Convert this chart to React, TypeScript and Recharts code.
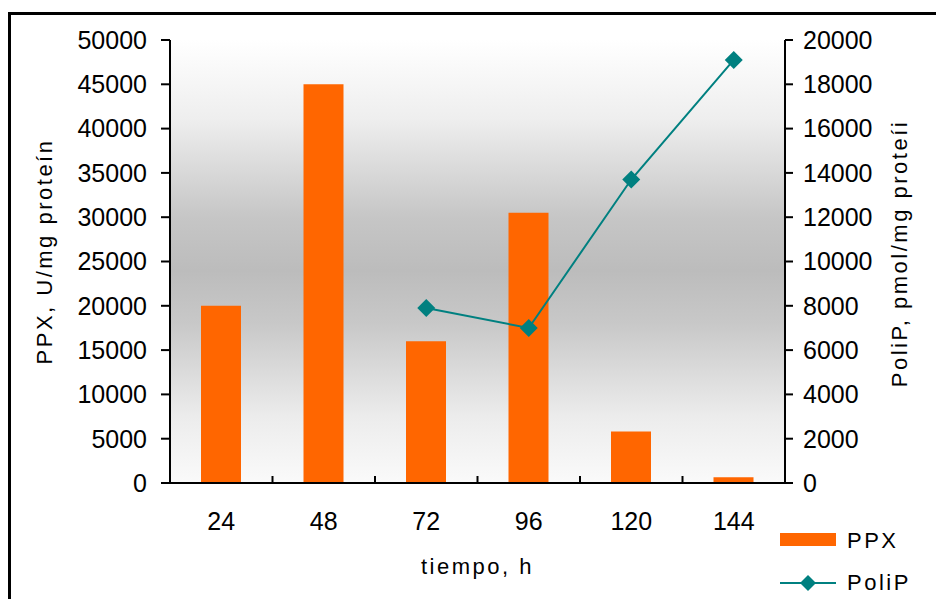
import { ComposedChart, Bar, Line, XAxis, YAxis, CartesianGrid, Label } from 'recharts'

// sampling times (h) and measured values per time point
const HOURS = ['24', '48', '72', '96', '120', '144']
const PPX = [20000, 45000, 16000, 30500, 5800, 650]
const POLIP: (number | null)[] = [null, null, 7900, 7000, 13700, 19100]

const PPX_TICKS = [0, 5000, 10000, 15000, 20000, 25000, 30000, 35000, 40000, 45000, 50000]
const POLIP_TICKS = [0, 2000, 4000, 6000, 8000, 10000, 12000, 14000, 16000, 18000, 20000]

const data = HOURS.map((hour, i) => ({ hour, ppx: PPX[i], polip: POLIP[i] }))

const FONT = '"Liberation Sans", Arial, sans-serif'
const ORANGE = '#FF6600'
const TEAL = '#008080'
const TICK_STYLE = { fill: '#000', fontSize: 25, fontFamily: FONT }
const TITLE_STYLE = { fill: '#000', fontSize: 22, fontFamily: FONT, letterSpacing: 2.5 }

function Diamond(props: any) {
  const { cx, cy } = props
  if (cx == null || cy == null) return null
  const r = 9
  return (
    <polygon
      points={`${cx},${cy - r} ${cx + r},${cy} ${cx},${cy + r} ${cx - r},${cy}`}
      fill={TEAL}
    />
  )
}

// hour label under each bar, with a short tick mark at the right edge of its band
function HourTick(props: any) {
  const { x, y, payload, index } = props
  const axisY = y - 29
  const edge = x + (payload.offset ?? 0)
  return (
    <g>
      <text x={x} y={y} dy="0.71em" textAnchor="middle" style={TICK_STYLE}>
        {payload.value}
      </text>
      {index < HOURS.length - 1 && (
        <line x1={edge} x2={edge} y1={axisY} y2={axisY - 7} stroke="#000" strokeWidth={2} />
      )}
    </g>
  )
}

function VerticalTitle(text: string, dx: number, dy: number) {
  return (p: any) => {
    const vb = p.viewBox
    const cx = vb.x + dx
    const cy = vb.y + vb.height / 2 + dy
    return (
      <text
        x={cx}
        y={cy}
        transform={`rotate(-90 ${cx} ${cy})`}
        textAnchor="middle"
        style={TITLE_STYLE}
      >
        {text}
      </text>
    )
  }
}

function HourTitle(p: any) {
  const vb = p.viewBox
  return (
    <text x={vb.x + vb.width / 2} y={vb.y + 91} textAnchor="middle" style={TITLE_STYLE}>
      tiempo, h
    </text>
  )
}

export default function App() {
  return (
    <div
      style={{
        position: 'absolute',
        left: 0,
        top: 0,
        width: 936,
        height: 599,
        background: '#fff',
        overflow: 'hidden',
        fontFamily: FONT,
      }}
    >
      <div
        style={{
          position: 'absolute',
          left: 8,
          top: 12,
          width: 1000,
          height: 700,
          borderLeft: '3px solid #000',
          borderTop: '3px solid #000',
        }}
      />
      <ComposedChart
        width={936}
        height={599}
        data={data}
        margin={{ top: 40, right: 0, bottom: 0, left: 0 }}
        barCategoryGap={0}
        style={{ position: 'absolute', left: 0, top: 0 }}
      >
        <defs>
          <linearGradient id="plotShade" x1="0" y1="0" x2="0" y2="1">
            <stop offset="0%" stopColor="#ffffff" />
            <stop offset="18%" stopColor="#eeeeee" />
            <stop offset="40%" stopColor="#c6c6c6" />
            <stop offset="52%" stopColor="#bcbcbc" />
            <stop offset="64%" stopColor="#c8c8c8" />
            <stop offset="85%" stopColor="#ececec" />
            <stop offset="100%" stopColor="#fafafa" />
          </linearGradient>
        </defs>
        <CartesianGrid
          yAxisId="ppx"
          horizontal={false}
          vertical={false}
          fill="url(#plotShade)"
          fillOpacity={1}
          stroke="none"
        />
        <XAxis
          dataKey="hour"
          height={116}
          tickSize={0}
          tickMargin={29}
          tickLine={false}
          axisLine={{ stroke: '#000', strokeWidth: 2 }}
          tick={<HourTick />}
          interval={0}
        >
          <Label content={HourTitle} />
        </XAxis>
        <YAxis
          yAxisId="ppx"
          width={170}
          domain={[0, 50000]}
          ticks={PPX_TICKS}
          interval={0}
          tickSize={9}
          tickMargin={14}
          tick={TICK_STYLE}
          tickLine={{ stroke: '#000', strokeWidth: 2 }}
          axisLine={{ stroke: '#000', strokeWidth: 2 }}
        >
          <Label content={VerticalTitle('PPX, U/mg proteín', 52, -10)} />
        </YAxis>
        <YAxis
          yAxisId="polip"
          orientation="right"
          width={151}
          domain={[0, 20000]}
          ticks={POLIP_TICKS}
          interval={0}
          tickSize={8}
          tickMargin={10}
          tick={TICK_STYLE}
          tickLine={{ stroke: '#000', strokeWidth: 2 }}
          axisLine={{ stroke: '#000', strokeWidth: 2 }}
        >
          <Label content={VerticalTitle('PoliP, pmol/mg proteíi', 122, -8)} />
        </YAxis>
        <Bar yAxisId="ppx" dataKey="ppx" fill={ORANGE} barSize={40} isAnimationActive={false} />
        <Line
          yAxisId="polip"
          dataKey="polip"
          type="linear"
          stroke={TEAL}
          strokeWidth={2}
          dot={<Diamond />}
          activeDot={false}
          isAnimationActive={false}
        />
      </ComposedChart>
      <svg
        width={936}
        height={599}
        style={{ position: 'absolute', left: 0, top: 0, pointerEvents: 'none' }}
      >
        <rect x={780} y={533} width={56} height={13} fill={ORANGE} />
        <text x={847} y={548} style={TITLE_STYLE}>PPX</text>
        <line x1={780} x2={836} y1={583} y2={583} stroke={TEAL} strokeWidth={2} />
        <polygon points="808,575 816,583 808,591 800,583" fill={TEAL} />
        <text x={847} y={590} style={TITLE_STYLE}>PoliP</text>
      </svg>
    </div>
  )
}
